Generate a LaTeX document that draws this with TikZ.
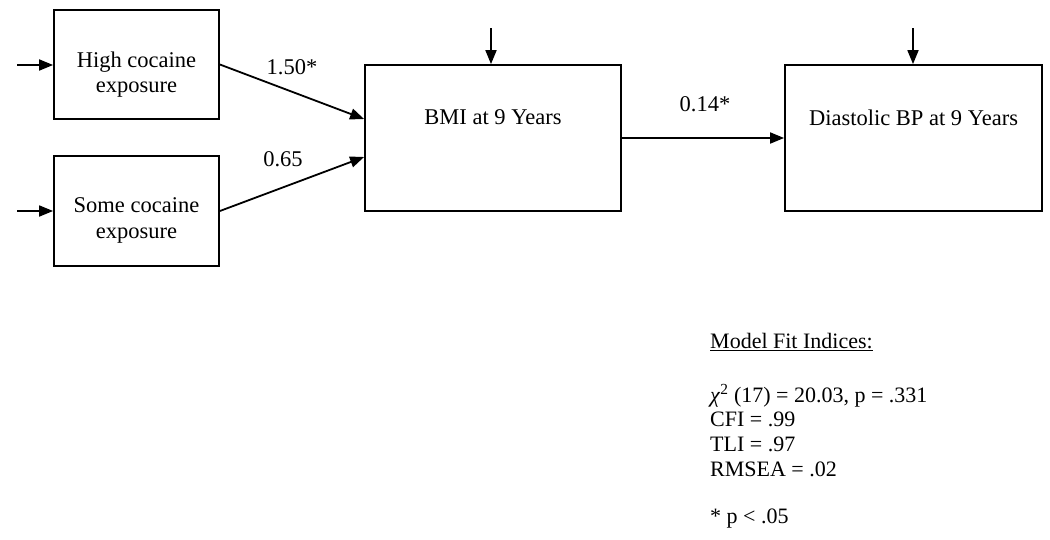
\documentclass[tikz,border=0pt]{standalone}
\usepackage{fontspec}
\setmainfont{Liberation Serif}
\usetikzlibrary{arrows.meta,calc}
\tikzset{
  box/.style={draw=black, line width=1.8pt, rectangle, inner sep=0pt},
  boxtext/.style={align=center, inner sep=0pt, font=\fontsize{22.5}{25.5}\selectfont},
  coef/.style={anchor=base, inner sep=0pt, font=\fontsize{22.5}{25}\selectfont},
  fit/.style={anchor=base west, inner sep=0pt, font=\fontsize{22}{25}\selectfont},
  arr/.style={line width=1.8pt, -{Triangle[length=14pt,width=11pt]}}
}
\begin{document}
\begin{tikzpicture}[x=1pt,y=-1pt]
\useasboundingbox (0,0) rectangle (1050,539);
% boxes
\node[box, minimum width=165pt, minimum height=109pt] (hc) at (136.5,64.5) {};
\node[box, minimum width=165pt, minimum height=110pt] (sc) at (136.5,211) {};
\node[box, minimum width=256pt, minimum height=146pt] (bmi) at (493,138) {};
\node[box, minimum width=257pt, minimum height=146pt] (dbp) at (913.5,138) {};
% box texts
\node[boxtext] (hct) at (136.5,74.5) {High cocaine\\exposure};
\node[boxtext] (sct) at (136.5,220.5) {Some cocaine\\exposure};
\node[boxtext] (bmit) at (493,117.5) {BMI at 9 Years};
\node[boxtext] (dbpt) at (913.5,117.5) {Diastolic BP at 9 Years};
% free ends of error arrows
\coordinate (hcin) at (17,65);
\coordinate (scin) at (17,211);
\coordinate (bmiin) at (491,28);
\coordinate (dbpin) at (913,28);
% arrows
\draw[arr] (hcin) -- (hcin -| hc.west);
\draw[arr] (scin) -- (scin -| sc.west);
\draw[arr] (bmiin) -- (bmiin |- bmi.north);
\draw[arr] (dbpin) -- (dbpin |- dbp.north);
\draw[arr] (hc.east) -- ([yshift=19pt]bmi.west);
\draw[arr] (sc.east) -- ([yshift=-19pt]bmi.west);
\draw[arr] (bmi.east) -- (dbp.west);
% coefficients
\node[coef] (c1) at (292,74) {1.50*};
\node[coef] (c2) at (283,166) {0.65};
\node[coef] (c3) at (705,111) {0.14*};
% fit indices
\node[fit] (f1) at (710,348) {\underline{Model Fit Indices:}};
\node[fit] (f2) at (710,402) {\textit{χ}\textsuperscript{2} (17) = 20.03, p = .331};
\node[fit] (f3) at (710,426) {CFI = .99};
\node[fit] (f4) at (710,451) {TLI = .97};
\node[fit] (f5) at (710,476) {RMSEA = .02};
\node[fit] (f6) at (710,523) {* p < .05};
\end{tikzpicture}
\end{document}
